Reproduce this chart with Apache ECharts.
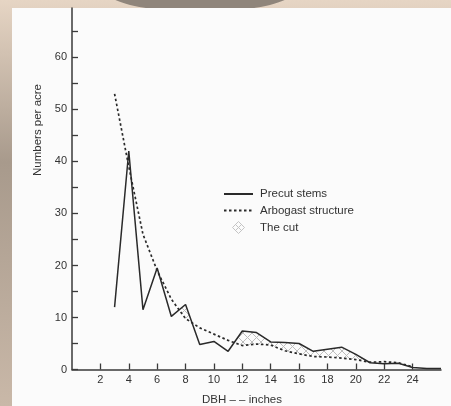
<!DOCTYPE html>
<html>
<head>
<meta charset="utf-8">
<script src="https://cdn.jsdelivr.net/npm/echarts@6/dist/echarts.min.js"></script>
<style>
  html, body { margin: 0; padding: 0; background: #d8c8b8; }
  #chart { width: 451px; height: 406px; }
</style>
</head>
<body>
<div id="chart"></div>
<script>
// ---- data ----
const precutDbh = [3,4,5,6,7,8,9,10,11,12,13,14,15,16,17,18,19,20,21,22,23,24,25,26];
const precut    = [12,42,11.5,19.5,10.2,12.5,4.8,5.4,3.5,7.4,7.1,5.3,5.2,5.0,3.5,3.9,4.3,2.9,1.3,1.1,1.2,0.4,0.2,0.2];
const arbogastDbh = [3,4,5,6,7,8,9,10,11,12,13,14,15,16,17,18,19,20,21,22,23,24];
const arbogast    = [53,39,26,19,13.5,9.8,8.0,6.8,5.6,4.6,4.9,4.7,3.6,3.0,2.5,2.4,2.2,1.9,1.4,1.5,1.3,0.5];
const xTicks  = [2,4,6,8,10,12,14,16,18,20,22,24];
const yTicks  = [0,5,10,15,20,25,30,35,40,45,50,55,60,65];
const yLabels = [0,10,20,30,40,50,60];

const FONT = "'Liberation Sans', Arial, Helvetica, sans-serif";
const INK = '#333333';
const LINE = '#2a2a2a';

// regions where precut exceeds the Arbogast structure ("the cut")
function cutPolygons() {
  const polys = [];
  let cur = null;
  for (let i = 0; i < arbogastDbh.length; i++) {
    const x = arbogastDbh[i], p = precut[i], a = arbogast[i], d = p - a;
    if (i > 0) {
      const x0 = arbogastDbh[i-1], p0 = precut[i-1], d0 = p0 - arbogast[i-1];
      if ((d0 > 0) !== (d > 0) && d0 !== d) {
        const t = d0 / (d0 - d);
        const xc = x0 + t * (x - x0), yc = p0 + t * (p - p0);
        if (cur) { cur.top.push([xc, yc]); cur.bot.push([xc, yc]); polys.push(cur); cur = null; }
        else { cur = { top: [[xc, yc]], bot: [[xc, yc]] }; }
      }
    }
    if (d > 0) {
      if (!cur) cur = { top: [], bot: [] };
      cur.top.push([x, p]); cur.bot.push([x, a]);
    }
  }
  if (cur) polys.push(cur);
  return polys.map(c => c.top.concat(c.bot.slice().reverse()));
}
const cutPolys = cutPolygons();

// cross-hatch pattern
const pc = document.createElement('canvas');
pc.width = 9; pc.height = 9;
const g = pc.getContext('2d');
g.strokeStyle = '#bdbdbd'; g.lineWidth = 1;
g.beginPath();
g.moveTo(0, 0); g.lineTo(9, 9);
g.moveTo(9, 0); g.lineTo(0, 9);
g.stroke();
const hatch = { type: 'pattern', image: pc, repeat: 'repeat' };

const chart = echarts.init(document.getElementById('chart'), null, { renderer: 'canvas' });
chart.setOption({
  animation: false,
  backgroundColor: {
    type: 'linear', x: 0, y: 0, x2: 0, y2: 1,
    colorStops: [
      { offset: 0, color: '#e6d5c4' },
      { offset: 0.4, color: '#a89a8c' },
      { offset: 1, color: '#c9b8a8' }
    ]
  },
  graphic: [
    { type: 'ellipse', shape: { cx: 200, cy: -10, rx: 95, ry: 22 }, style: { fill: '#8f857b' }, z: -100, silent: true },
    { type: 'rect', shape: { x: 12, y: 8, width: 439, height: 398 }, style: { fill: '#fbfbfb' }, z: -90, silent: true },
    { type: 'text', x: 38, y: 130, rotation: Math.PI / 2,
      style: { text: 'Numbers per acre', font: '11.5px ' + FONT, fill: INK, align: 'center', verticalAlign: 'middle' } },
    { type: 'text', x: 242, y: 400,
      style: { text: 'DBH \u2013 \u2013 inches', font: '11.5px ' + FONT, fill: INK, align: 'center', verticalAlign: 'middle' } }
  ],
  grid: { left: 72, right: 10, top: 8, bottom: 36.5, containLabel: false },
  legend: {
    orient: 'vertical', left: 223, top: 188, padding: 0,
    itemWidth: 29, itemHeight: 12, itemGap: 4.5,
    textStyle: { fontFamily: FONT, fontSize: 11.5, color: INK, padding: [0, 0, 0, 2] },
    data: [
      { name: 'Precut stems', itemStyle: { opacity: 0 } },
      { name: 'Arbogast structure', itemStyle: { opacity: 0 } },
      { name: 'The cut', icon: 'path://M6,0 L12,6 L6,12 L0,6 Z M3,3 L9,9 M9,3 L3,9',
        itemStyle: { color: 'transparent', borderColor: '#c4c4c4', borderWidth: 1 } }
    ]
  },
  xAxis: {
    type: 'value', min: 0, max: 26,
    axisLine: { lineStyle: { color: '#3a3a3a', width: 1.5 } },
    axisTick: { inside: true, length: 6, customValues: xTicks, lineStyle: { color: '#3a3a3a', width: 1.3 } },
    axisLabel: { customValues: xTicks, margin: 5, fontFamily: FONT, fontSize: 11, color: INK },
    splitLine: { show: false }
  },
  yAxis: {
    type: 'value', min: 0, max: 69.5,
    axisLine: { show: true, lineStyle: { color: '#3a3a3a', width: 1.5 } },
    axisTick: { show: true, inside: true, length: 6, customValues: yTicks, lineStyle: { color: '#3a3a3a', width: 1.3 } },
    axisLabel: { customValues: yLabels, margin: 5, fontFamily: FONT, fontSize: 11, color: INK },
    splitLine: { show: false }
  },
  series: [
    {
      name: 'The cut', type: 'custom', silent: true, z: 1,
      data: cutPolys.map((p, i) => i),
      encode: { x: -1, y: -1 },
      renderItem: function (params, api) {
        const pts = cutPolys[params.dataIndex].map(p => api.coord(p));
        return { type: 'polygon', shape: { points: pts }, style: { fill: hatch, stroke: null } };
      }
    },
    {
      name: 'Arbogast structure', type: 'line', symbol: 'none', z: 3,
      data: arbogastDbh.map((x, i) => [x, arbogast[i]]),
      itemStyle: { color: LINE },
      lineStyle: { color: LINE, width: 1.7, type: [2.5, 2.5] }
    },
    {
      name: 'Precut stems', type: 'line', symbol: 'none', z: 4,
      data: precutDbh.map((x, i) => [x, precut[i]]),
      itemStyle: { color: LINE },
      lineStyle: { color: LINE, width: 1.5 }
    }
  ]
});
</script>
</body>
</html>
